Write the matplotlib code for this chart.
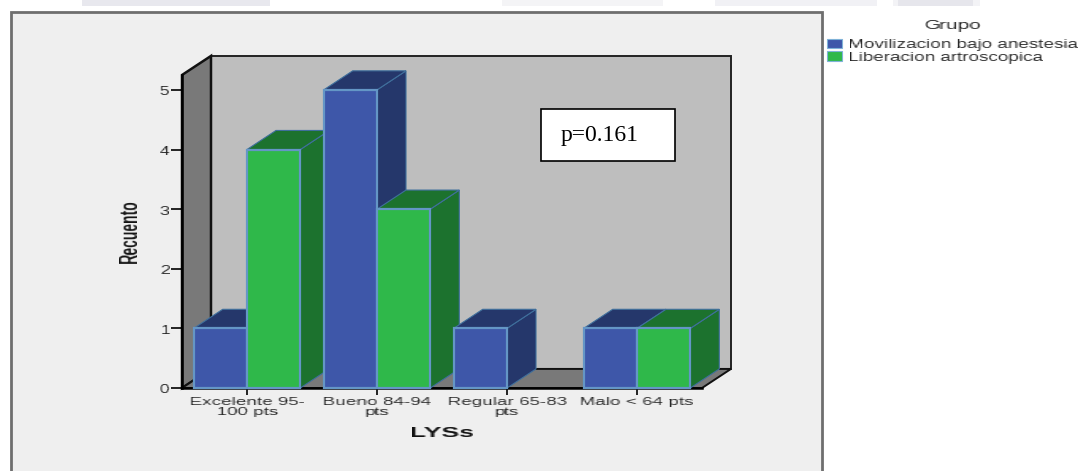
"""
Recuento por categoria LYSs y grupo de tratamiento, barras con aspecto 3D
"""

import matplotlib
matplotlib.use('Agg')
import matplotlib.pyplot as plt
import numpy as np
from matplotlib.patches import Polygon, Rectangle
from matplotlib.transforms import Affine2D

categories = ['Excelente 95-\n100 pts', 'Bueno 84-94\npts', 'Regular 65-83\npts', 'Malo < 64 pts']
movilizacion = [1, 5, 1, 1]
liberacion = [4, 3, 0, 1]
group_names = ['Movilizacion bajo anestesia', 'Liberacion artroscopica']
y_ticks = [0, 1, 2, 3, 4, 5]

BAR_W = 0.41
DEPTH_X = 0.223
DEPTH_Y = 0.32
Y_MAX = 5.25
EDGE = '#6496c6'
BLUE, BLUE_DARK = '#3e57a9', '#25376b'
GREEN, GREEN_DARK = '#2fb84a', '#1c722e'
SANS = 'Liberation Sans'

W, H = 1083, 471
fig = plt.figure(figsize=(W / 100, H / 100), dpi=100, facecolor='white')

# top-left pixel coordinates for everything outside the plot area
px = Affine2D().scale(1, -1).translate(0, H)


def stretch(sx=1.0, sy=1.0, anchor=0.5, dy=0):
    """agg filter that rescales a text, anchor is the fixed point in x (0 left, 1 right)"""
    def _filter(img, dpi):
        h, w = img.shape[:2]
        new_w, new_h = int(round(w * sx)), int(round(h * sy))
        xs = np.linspace(0, w - 1, new_w)
        ys = np.linspace(0, h - 1, new_h)
        wide = np.empty((h, new_w, img.shape[2]))
        for c in range(img.shape[2]):
            for r in range(h):
                wide[r, :, c] = np.interp(xs, np.arange(w), img[r, :, c])
        out = np.empty((new_h, new_w, img.shape[2]))
        for c in range(img.shape[2]):
            for col in range(new_w):
                out[:, col, c] = np.interp(ys, np.arange(h), wide[:, col, c])
        return out, -(new_w - w) * anchor, -(new_h - h) / 2 + dy
    return _filter


def add_box(x0, y0, x1, y1, zorder=0, **kwargs):
    fig.add_artist(Rectangle((x0, y0), x1 - x0, y1 - y0, transform=px, zorder=zorder, **kwargs))


def add_text(x, y, s, **kwargs):
    return fig.text(x, y, s, transform=px, va='center', **kwargs)


# faint strips along the top edge
for x0, x1, color in [(82, 270, '#e8e8ee'), (502, 663, '#f4f4f6'), (715, 877, '#f1f1f5'),
                      (893, 980, '#f3f3f6'), (898, 973, '#e6e6ec')]:
    add_box(x0, 0, x1, 6, facecolor=color, edgecolor='none')

# outer chart panel, runs off the bottom
add_box(10.5, 12, 822, H + 5, facecolor='#efefef', edgecolor='#6e6e6e', linewidth=2)

ax = fig.add_axes([182 / W, (H - 388) / H, 520 / W, 313 / H], zorder=1)
ax.set_xlim(-0.5, 3.5)
ax.set_ylim(0, Y_MAX)
ax.patch.set_visible(False)


def draw_poly(points, face, edge='none', lw=0, z=1):
    ax.add_patch(Polygon(points, closed=True, facecolor=face, edgecolor=edge,
                         linewidth=lw, clip_on=False, zorder=z, joinstyle='miter'))


# back wall, left wall and floor
x0, x1 = ax.get_xlim()
draw_poly([(x0 + DEPTH_X, DEPTH_Y), (x1 + DEPTH_X, DEPTH_Y), (x1 + DEPTH_X, Y_MAX + DEPTH_Y),
           (x0 + DEPTH_X, Y_MAX + DEPTH_Y)], '#bebebe', '#222222', 1.4)
draw_poly([(x0, 0), (x0 + DEPTH_X, DEPTH_Y), (x0 + DEPTH_X, Y_MAX + DEPTH_Y), (x0, Y_MAX)],
          '#797979', '#111111', 1.8)
draw_poly([(x0, 0), (x1, 0), (x1 + DEPTH_X, DEPTH_Y), (x0 + DEPTH_X, DEPTH_Y)],
          '#797979', '#111111', 1.4)


def draw_bar(left, value, front, dark):
    right = left + BAR_W
    draw_poly([(right, 0), (right + DEPTH_X, DEPTH_Y), (right + DEPTH_X, value + DEPTH_Y), (right, value)],
              dark, '#3f6f9c', 0.8, 2)
    draw_poly([(left, value), (right, value), (right + DEPTH_X, value + DEPTH_Y), (left + DEPTH_X, value + DEPTH_Y)],
              dark, '#3f6f9c', 0.8, 2)
    ax.add_patch(Rectangle((left, 0), BAR_W, value, facecolor=front, edgecolor=EDGE,
                           linewidth=1.6, clip_on=False, zorder=2))


# left to right so nearer faces cover what sits behind them
for i in range(len(categories)):
    if movilizacion[i] > 0:
        draw_bar(i - BAR_W, movilizacion[i], BLUE, BLUE_DARK)
    if liberacion[i] > 0:
        draw_bar(i, liberacion[i], GREEN, GREEN_DARK)

for side in ['top', 'right']:
    ax.spines[side].set_visible(False)
for side in ['left', 'bottom']:
    ax.spines[side].set_linewidth(1.8)
    ax.spines[side].set_zorder(1.5)

ax.set_yticks(y_ticks)
ax.set_xticks(range(len(categories)))
ax.set_xticklabels(categories, linespacing=0.95, fontsize=8, color='#222222', family=SANS)
ax.tick_params(axis='y', length=8, width=1.2, pad=1, labelsize=8.5, labelcolor='#222222')
ax.tick_params(axis='x', length=5, width=1.2, pad=1.5)
for label in ax.get_xticklabels():
    label.set_agg_filter(stretch(sx=1.68))
for label in ax.get_yticklabels():
    label.set_family(SANS)
    label.set_agg_filter(stretch(sx=1.5, anchor=1.0, dy=-1))

add_text(129, 231, 'Recuento', rotation=90, ha='center', fontsize=12, fontweight='bold',
         family=SANS, color='#111111').set_agg_filter(stretch(sx=1.5, sy=0.84))
add_text(442, 433, 'LYSs', ha='center', fontsize=10.5, fontweight='bold', family=SANS,
         color='#111111').set_agg_filter(stretch(sx=1.8))

# legend on the white margin
add_text(953, 25.5, 'Grupo', ha='center', fontsize=9, color='#222222', family=SANS).set_agg_filter(stretch(sx=1.65))
for y, name, color in zip([43.5, 56], group_names, [BLUE, GREEN]):
    add_box(827, y - 4.8, 842, y + 4.8, zorder=2, facecolor=color, edgecolor='#7fb2d8', linewidth=0.8)
    add_text(849, y + 1.5, name, ha='left', fontsize=8.6, color='#222222', family=SANS).set_agg_filter(stretch(sx=1.58, anchor=0.0))

# p value note over the back wall
add_box(541, 108.5, 674.5, 161, zorder=3, facecolor='white', edgecolor='black', linewidth=1.2)
add_text(561, 135, 'p=0.161', ha='left', fontsize=17, family='Liberation Serif', color='black', zorder=4)

fig.savefig('out.png', dpi=100)
